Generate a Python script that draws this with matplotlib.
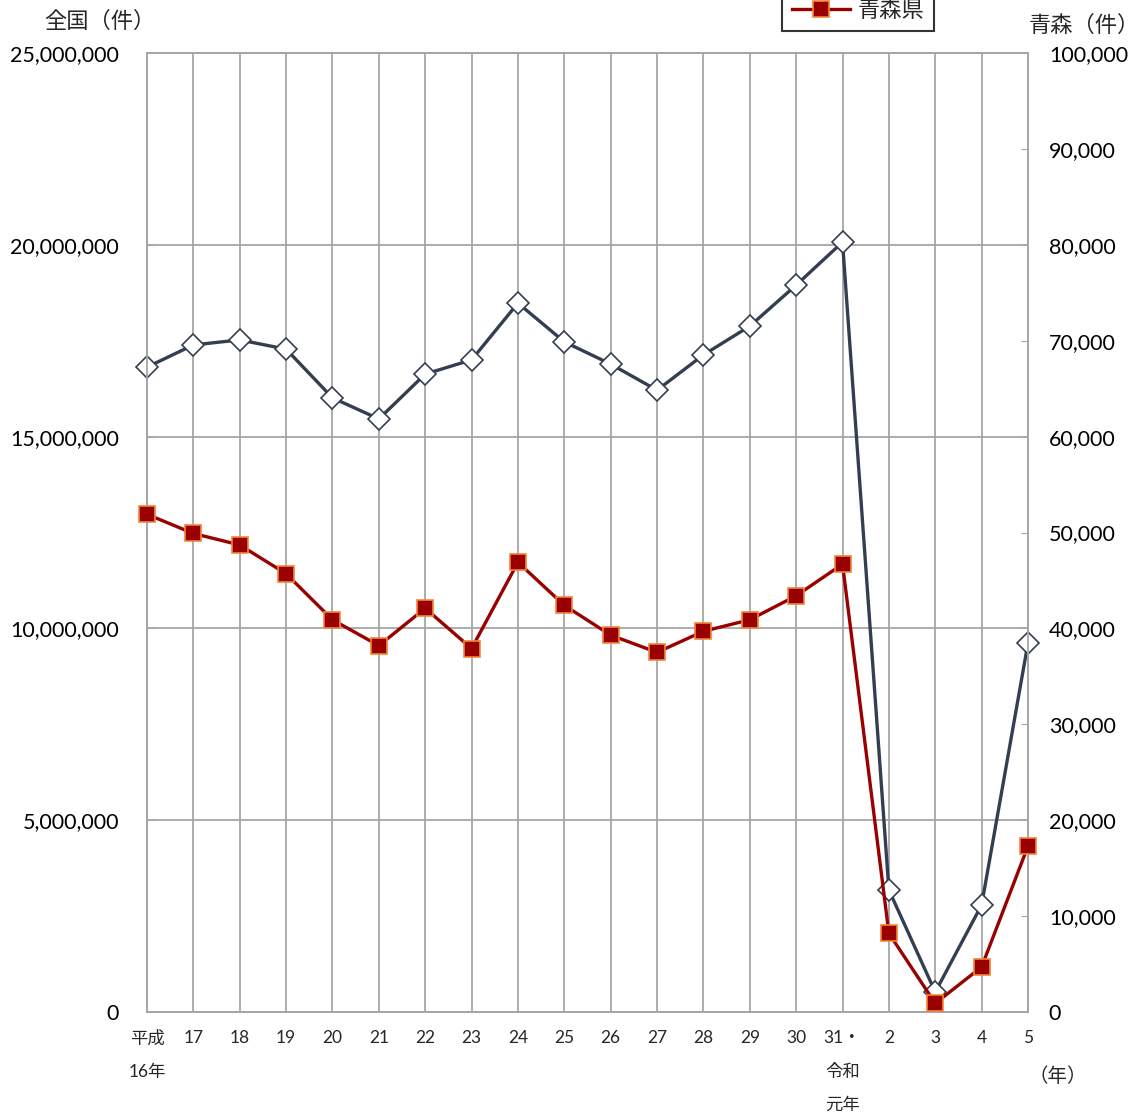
import matplotlib
matplotlib.use("Agg")
import matplotlib.pyplot as plt
from matplotlib.ticker import FixedLocator, FuncFormatter

plt.rcParams['font.family'] = ['Lato', 'Noto Sans CJK JP', 'DejaVu Sans']

categories = ["平成\n16年", "17", "18", "19", "20", "21", "22", "23", "24", "25",
              "26", "27", "28", "29", "30", "31・\n令和\n元年", "2", "3", "4", "5"]
zenkoku = [16810000, 17390000, 17520000, 17280000, 16010000, 15460000, 16630000,
           17000000, 18480000, 17470000, 16890000, 16210000, 17130000, 17880000,
           18950000, 20070000, 3180000, 520000, 2790000, 9620000]
aomori = [51900, 49900, 48700, 45700, 40900, 38200, 42100, 37900, 46900, 42400,
          39300, 37500, 39700, 40900, 43400, 46700, 8200, 900, 4700, 17300]

left_ticks = [0, 5000000, 10000000, 15000000, 20000000, 25000000]
right_ticks = [0, 10000, 20000, 30000, 40000, 50000, 60000, 70000, 80000, 90000, 100000]

W, H = 1147, 1117
fig = plt.figure(figsize=(W / 100, H / 100), dpi=100)
ax = fig.add_axes([147 / W, (H - 1012) / H, (1028 - 147) / W, (1012 - 53) / H])
ax2 = ax.twinx()

x = list(range(len(categories)))
grid_c = '#A6A6A6'
txt_c = '#262626'

ax.plot(x, zenkoku, color='#333F50', lw=2.4, marker='D', ms=11, mfc='white',
        mec='#333F50', mew=1.2, clip_on=False, zorder=3, label='全国')
ax2.plot(x, aomori, color='#990000', lw=2.4, marker='s', ms=11, mfc='#990000',
         mec='#F4853A', mew=1.2, clip_on=False, zorder=3, label='青森県')

ax.set_xlim(0, len(categories) - 1)
ax.set_ylim(0, 25000000)
ax2.set_ylim(0, 100000)

ax.yaxis.set_major_locator(FixedLocator(left_ticks))
ax.yaxis.set_major_formatter(FuncFormatter(lambda v, p: f"{int(v):,}"))
ax2.yaxis.set_major_locator(FixedLocator(right_ticks))
ax2.yaxis.set_major_formatter(FuncFormatter(lambda v, p: f"{int(v):,}"))

ax.set_xticks(x)
ax.set_xticklabels(categories, fontsize=12.5, linespacing=2.35, va='top', color=txt_c)
ax.grid(True, axis='both', color=grid_c, lw=1.3)
ax.set_axisbelow(True)

for a in (ax, ax2):
    for s in a.spines.values():
        s.set_color(grid_c)
        s.set_linewidth(1.3)
ax.tick_params(axis='x', length=0, pad=13)
ax.tick_params(axis='y', direction='in', length=5, color=grid_c, labelsize=15.5,
               pad=20, labelcolor='black')
ax2.tick_params(axis='y', direction='in', length=5, color=grid_c, labelsize=15.5,
                pad=15, labelcolor='black')

fig.text(100 / W, 1 - 21 / H, "全国（件）", fontsize=16, ha='center', va='center', color=txt_c)
fig.text(1084 / W, 1 - 25 / H, "青森（件）", fontsize=16, ha='center', va='center', color=txt_c)
fig.text(1058 / W, 1 - 1076 / H, "（年）", fontsize=14, ha='center', va='center', color=txt_c)

leg = fig.legend(handles=[ax2.lines[0]], labels=['青森県'], loc='lower left',
                 bbox_to_anchor=(782 / W, 1 - 31 / H), fontsize=16, frameon=True,
                 fancybox=False, edgecolor='black', handlelength=2.6, handletextpad=0.35,
                 borderpad=0.45, borderaxespad=0, labelcolor=txt_c)
leg.get_frame().set_linewidth(1.5)

fig.savefig("out.png", dpi=100)
